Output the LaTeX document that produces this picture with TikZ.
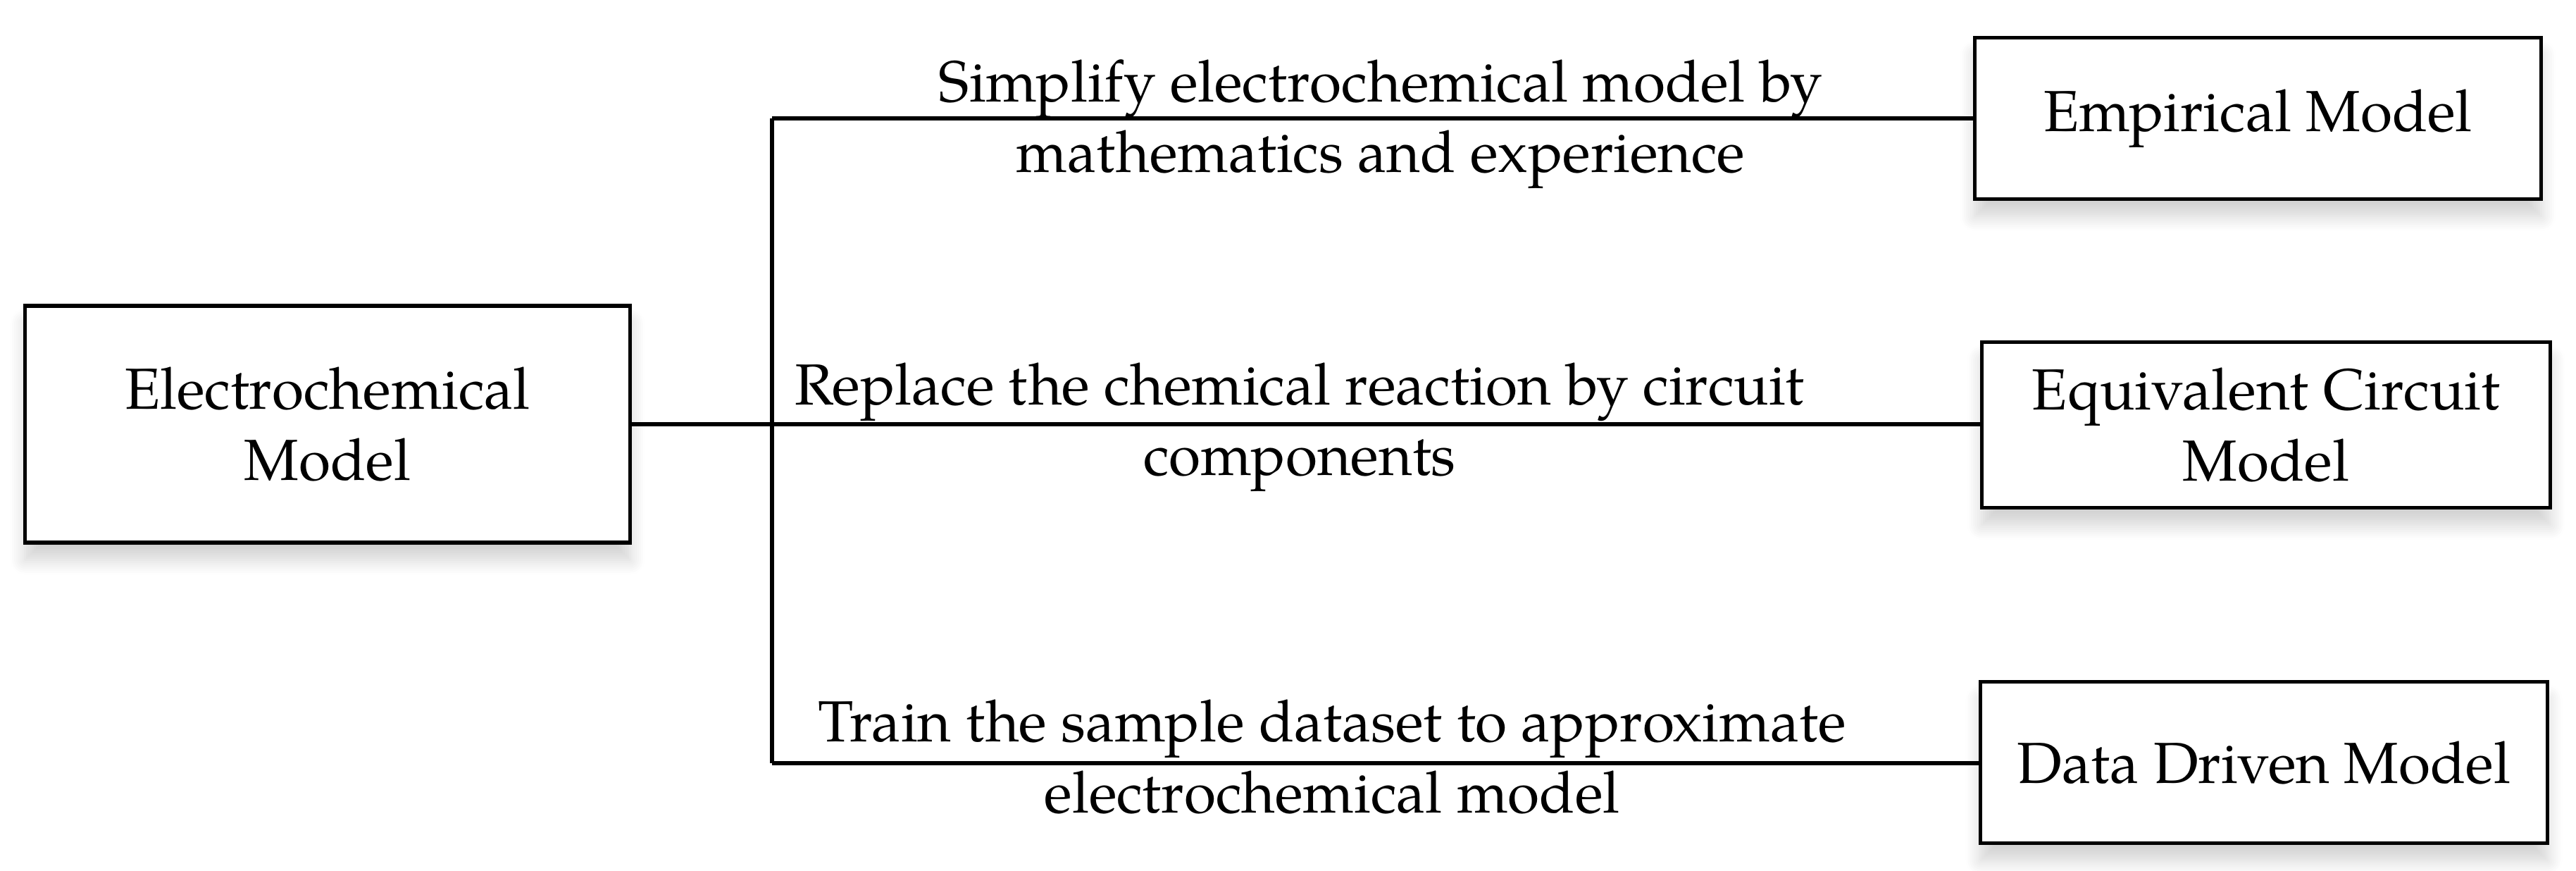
\documentclass[tikz,border=0pt]{standalone}
\usepackage{fontspec}
\setmainfont{TeX Gyre Pagella}
\usetikzlibrary{shadows.blur}
\begin{document}
\begin{tikzpicture}[
  txt/.style={font=\fontsize{23.4}{28.5}\selectfont},
  box/.style={txt, draw=black, line width=1.6pt, fill=white, align=center,
    inner sep=0pt,
    blur shadow={shadow xshift=0pt, shadow yshift=-7pt, shadow blur radius=6pt,
      shadow opacity=18, shadow blur steps=8}},
  conn/.style={line width=1.6pt, draw=black},
  lbl/.style={txt, align=center, inner sep=0pt, anchor=base}
]
\useasboundingbox (0,0) rectangle (36.57,12.35);

\node[box, minimum width=8.59cm, minimum height=3.36cm] (elec) at (4.65,6.33) {Electrochemical\\Model};
\node[box, minimum width=8.04cm, minimum height=2.29cm] (emp) at (32.055,10.67) {Empirical Model};
\node[box, minimum width=8.07cm, minimum height=2.35cm] (eq) at (32.17,6.32) {Equivalent Circuit\\Model};
\node[box, minimum width=8.05cm, minimum height=2.29cm] (data) at (32.14,1.53) {Data Driven Model};

\coordinate (jt) at (10.96,10.67);
\coordinate (jb) at (10.96,1.52);

\draw[conn] (jt) -- (jb);
\draw[conn] (jt) -- (jt -| emp.west);
\draw[conn] (elec.east) -- (elec.east -| eq.west);
\draw[conn] (jb) -- (jb -| data.west);

\node[lbl] (l1) at (19.60,9.90) {Simplify electrochemical model by\\mathematics and experience};
\node[lbl] (l2) at (18.45,5.60) {Replace the chemical reaction by circuit\\components};
\node[lbl] (l3) at (18.91,0.82) {Train the sample dataset to approximate\\electrochemical model};
\end{tikzpicture}
\end{document}
